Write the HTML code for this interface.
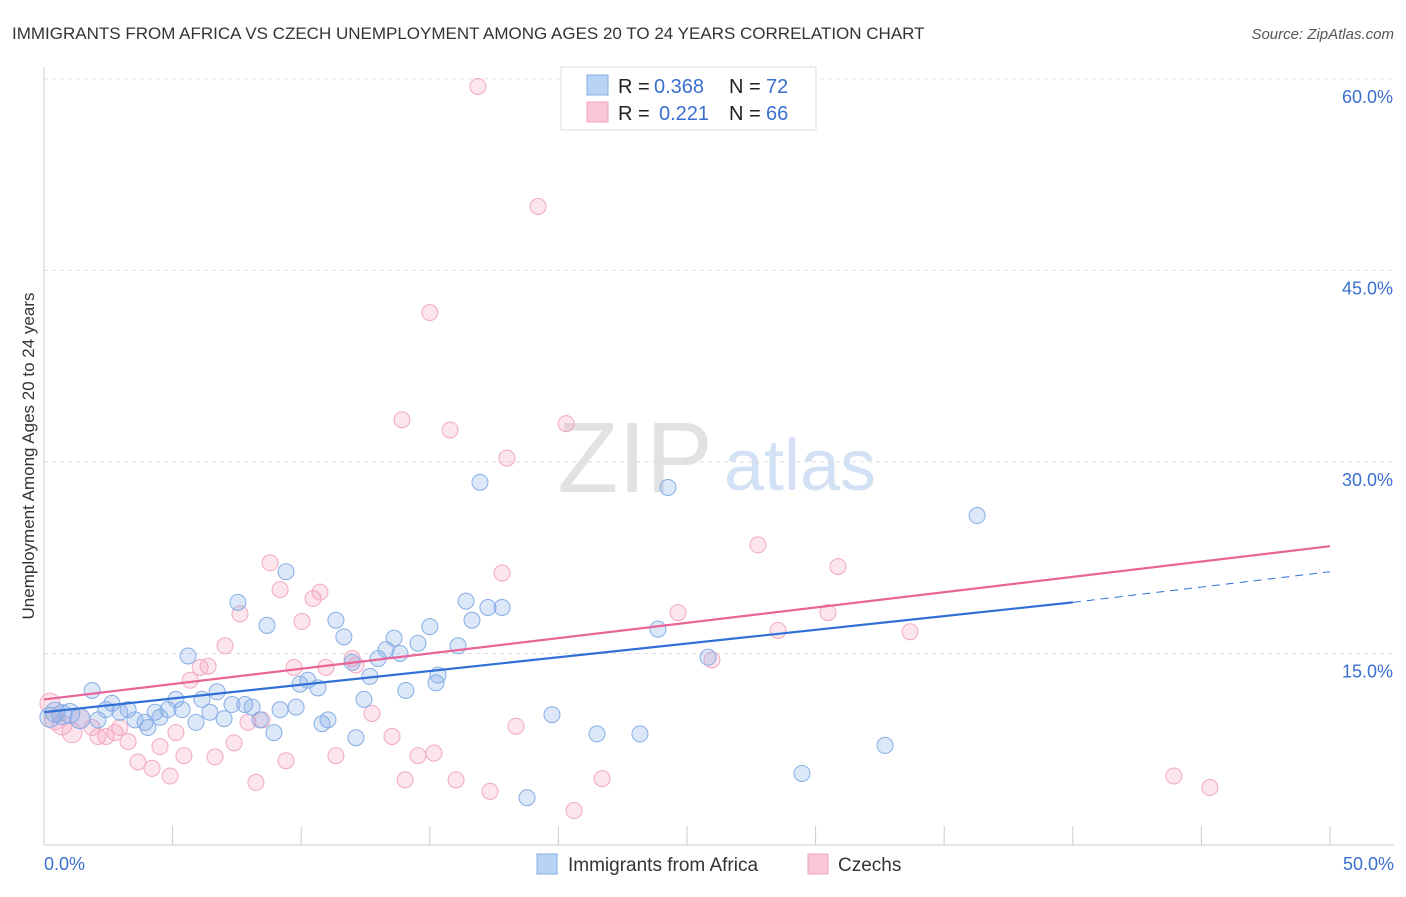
<!DOCTYPE html>
<html><head><meta charset="utf-8"><style>
body{margin:0;background:#fff;font-family:"Liberation Sans",sans-serif;}
svg text{font-family:"Liberation Sans",sans-serif;}
</style></head><body>
<svg id="chart" width="1406" height="892">
<text x="12" y="39" font-size="17" fill="#333">IMMIGRANTS FROM AFRICA VS CZECH UNEMPLOYMENT AMONG AGES 20 TO 24 YEARS CORRELATION CHART</text>
<text x="1394" y="39" font-size="15" fill="#555" font-style="italic" text-anchor="end">Source: ZipAtlas.com</text>
<text x="34" y="456" font-size="17" fill="#333" text-anchor="middle" transform="rotate(-90 34 456)">Unemployment Among Ages 20 to 24 years</text>
<g><text x="635" y="492" font-size="100" fill="#e2e2e2" font-family="Liberation Serif" text-anchor="middle">ZIP</text><text x="800" y="490" font-size="72" fill="#d3e1f5" text-anchor="middle">atlas</text></g>
<g id="grid"></g><g id="marks"></g>
<g>
<rect x="561" y="67" width="255" height="63" fill="#fff" stroke="#ddd"/>
<rect x="587" y="75" width="21" height="20" fill="#b9d3f5" stroke="#86aee6"/>
<rect x="587" y="102" width="21" height="20" fill="#f9c7d6" stroke="#f0a0bc"/>
<text x="618" y="93" font-size="20" fill="#222">R = </text>
<text x="654" y="93" font-size="20" fill="#3a6fd0">0.368</text>
<text x="729" y="93" font-size="20" fill="#222">N = </text>
<text x="766" y="93" font-size="20" fill="#3a6fd0">72</text>
<text x="618" y="120" font-size="20" fill="#222">R = </text>
<text x="659" y="120" font-size="20" fill="#3a6fd0">0.221</text>
<text x="729" y="120" font-size="20" fill="#222">N = </text>
<text x="766" y="120" font-size="20" fill="#3a6fd0">66</text>
</g>
<g>
<rect x="537" y="854" width="20" height="20" fill="#b9d3f5" stroke="#86aee6"/>
<text x="568" y="871" font-size="19" fill="#333">Immigrants from Africa</text>
<rect x="808" y="854" width="20" height="20" fill="#f9c7d6" stroke="#f0a0bc"/>
<text x="838" y="871" font-size="19" fill="#333">Czechs</text>
</g>
</svg>
<script>
const blueX=[0.23,0.43,0.7,1.0,1.4,1.87,2.1,2.4,2.64,2.95,3.27,3.54,3.93,4.04,4.32,4.51,4.82,5.13,5.37,5.6,5.91,6.14,6.45,6.73,7.0,7.31,7.54,7.81,8.09,8.4,8.67,8.94,9.18,9.41,9.8,9.95,10.26,10.65,10.81,11.04,11.35,11.66,11.98,12.13,12.44,12.67,12.99,13.3,13.61,13.84,14.07,14.54,15.0,15.24,15.32,16.1,16.41,16.64,16.95,17.26,17.81,18.78,19.75,21.5,23.17,23.87,24.26,25.82,29.47,32.7,36.28];
const blueY=[10.0,10.4,10.2,10.3,9.9,12.1,9.8,10.6,11.1,10.4,10.6,9.8,9.6,9.2,10.4,10.0,10.6,11.4,10.6,14.8,9.6,11.4,10.4,12.0,9.9,11.0,19.0,11.0,10.8,9.8,17.2,8.8,10.6,21.4,10.8,12.6,12.9,12.3,9.5,9.8,17.6,16.3,14.3,8.4,11.4,13.2,14.6,15.3,16.2,15.0,12.1,15.8,17.1,12.7,13.3,15.6,19.1,17.6,28.4,18.6,18.6,3.7,10.2,8.7,8.7,16.9,28.0,14.7,5.6,7.8,25.8];
const pinkX=[0.23,0.43,0.7,1.09,1.4,1.87,2.1,2.41,2.76,2.95,3.27,3.65,4.2,4.51,4.9,5.13,5.44,5.68,6.07,6.38,6.65,7.04,7.39,7.62,7.93,8.24,8.48,8.79,9.18,9.41,9.72,10.03,10.46,10.73,10.96,11.35,11.98,12.13,12.75,13.53,13.92,14.04,14.54,15.0,15.16,15.79,16.02,16.87,17.34,18.0,17.81,18.35,19.21,20.3,20.61,21.7,24.65,25.97,27.76,28.54,30.48,30.87,33.67,43.93,45.33];
const pinkY=[11.1,9.8,9.4,8.8,9.9,9.2,8.5,8.5,8.8,9.2,8.1,6.5,6.0,7.7,5.4,8.8,7.0,12.9,13.9,14.0,6.9,15.6,8.0,18.1,9.6,4.9,9.8,22.1,20.0,6.6,13.9,17.5,19.3,19.8,13.9,7.0,14.6,14.1,10.3,8.5,33.3,5.1,7.0,41.7,7.2,32.5,5.1,59.4,4.2,30.3,21.3,9.3,50.0,33.0,2.7,5.2,18.2,14.5,23.5,16.8,18.2,21.8,16.7,5.4,4.5];
const blueTrend=[10.4,19.0,21.4];
const pinkTrend=[11.4,23.4];
const yTicks=[15,30,45,60];
const yLabels=["15.0%","30.0%","45.0%","60.0%"];
const xTicks=[0,5,10,15,20,25,30,35,40,45,50];
const NS="http://www.w3.org/2000/svg";
const sx=v=>44+v*25.72, sy=v=>845-v*12.77;
function mk(t,a,p){const e=document.createElementNS(NS,t);for(const k in a)e.setAttribute(k,a[k]);p.appendChild(e);return e;}
const grid=document.getElementById('grid'),marks=document.getElementById('marks');
yTicks.forEach((v,i)=>{
 const l=mk('line',{x1:44,x2:1394,y1:sy(v),y2:sy(v),stroke:'#ddd','stroke-dasharray':'4,4'},grid);
 
 
 const t=mk('text',{x:1393,y:sy(v)+24,'font-size':18,fill:'#3a6fd0','text-anchor':'end'},grid);
 t.textContent=yLabels[i];
 
 
});
const ax=mk('line',{x1:44,x2:1394,y1:845,y2:845,stroke:'#ccc'},grid);


const ay=mk('line',{x1:44,x2:44,y1:67,y2:845,stroke:'#ccc'},grid);


xTicks.forEach(v=>{
 const l=mk('line',{x1:sx(v),x2:sx(v),y1:826,y2:845,stroke:'#ccc'},grid);
 
 
});
const x0=mk('text',{x:44,y:870,'font-size':18,fill:'#3a6fd0'},grid);x0.textContent='0.0%';


const x1=mk('text',{x:1394,y:870,'font-size':18,fill:'#3a6fd0','text-anchor':'end'},grid);x1.textContent='50.0%';


function dots(X,Y,fill,stroke,name){X.forEach((x,i)=>{
 const r=x<1.5?10:8;
 const c=mk('circle',{cx:sx(x),cy:sy(Y[i]),r:r,fill:fill,stroke:stroke,'stroke-width':1},marks);
 
 
});}
dots(pinkX,pinkY,'rgba(244,160,190,0.28)','#f2a8c2','czechs-point');
dots(blueX,blueY,'rgba(130,170,230,0.28)','#86aee6','africa-point');
const bl=mk('line',{x1:sx(0),y1:sy(blueTrend[0]),x2:sx(40),y2:sy(blueTrend[1]),stroke:'#2f6fd6','stroke-width':2.2},marks);


const bd=mk('line',{x1:sx(40),y1:sy(blueTrend[1]),x2:sx(50),y2:sy(blueTrend[2]),stroke:'#2f6fd6','stroke-width':1,'stroke-dasharray':'8,6'},marks);


const pl=mk('line',{x1:sx(0),y1:sy(pinkTrend[0]),x2:sx(50),y2:sy(pinkTrend[1]),stroke:'#e8659a','stroke-width':2.2},marks);


</script>
</body></html>
